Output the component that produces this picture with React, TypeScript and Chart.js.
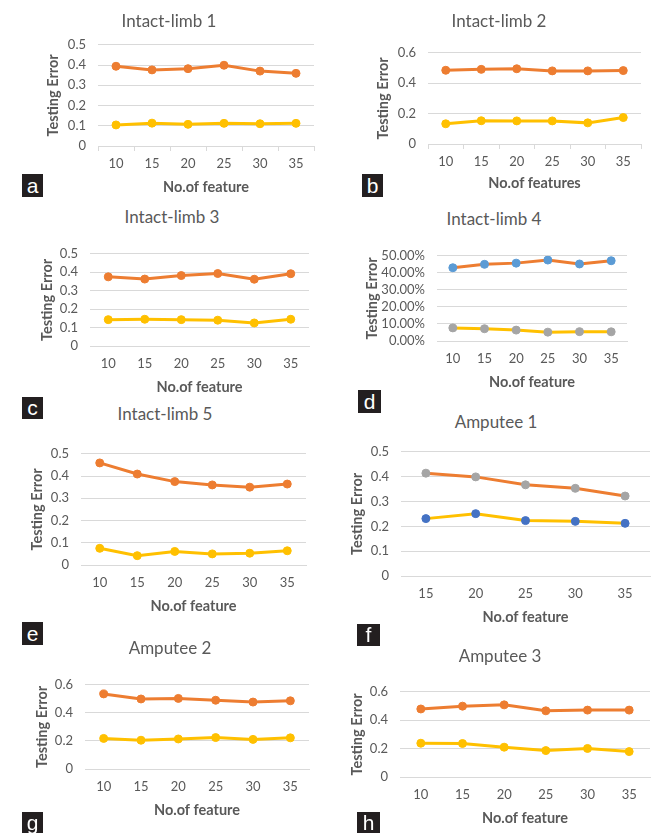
import React, { useEffect, useRef } from "react";
import { Chart, registerables } from "chart.js";

Chart.register(...registerables);

// ---------- data ----------
const features6 = ["10", "15", "20", "25", "30", "35"];
const features5 = ["15", "20", "25", "30", "35"];

const intact1Upper = [0.394, 0.376, 0.382, 0.399, 0.37, 0.359];
const intact1Lower = [0.104, 0.113, 0.107, 0.112, 0.11, 0.112];

const intact2Upper = [0.485, 0.491, 0.495, 0.481, 0.481, 0.483];
const intact2Lower = [0.133, 0.153, 0.152, 0.152, 0.139, 0.174];

const intact3Upper = [0.375, 0.363, 0.382, 0.393, 0.362, 0.392];
const intact3Lower = [0.143, 0.145, 0.143, 0.14, 0.125, 0.145];

const intact4Upper = [43.0, 45.0, 45.7, 47.5, 45.2, 47.1];
const intact4Lower = [7.7, 7.2, 6.4, 5.2, 5.5, 5.4];

const intact5Upper = [0.459, 0.409, 0.375, 0.36, 0.35, 0.364];
const intact5Lower = [0.075, 0.042, 0.061, 0.05, 0.053, 0.064];

const amputee1Upper = [0.414, 0.399, 0.367, 0.353, 0.322];
const amputee1Lower = [0.231, 0.251, 0.223, 0.22, 0.212];

const amputee2Upper = [0.535, 0.499, 0.503, 0.49, 0.477, 0.486];
const amputee2Lower = [0.218, 0.205, 0.214, 0.224, 0.211, 0.222];

const amputee3Upper = [0.479, 0.499, 0.508, 0.466, 0.471, 0.471];
const amputee3Lower = [0.238, 0.236, 0.21, 0.186, 0.201, 0.179];

// ---------- styles ----------
const ORANGE = "#ED7D31";
const YELLOW = "#FFC000";
const GRAY = "#A5A5A5";
const LIGHTBLUE = "#5B9BD5";
const DARKBLUE = "#4472C4";
const TEXT = "#595959";
const GRID = "#D9D9D9";
const FONT = "Lato, 'Open Sans', sans-serif";
const TICK_SIZE = 13;
const AXIS_TITLE_SIZE = 14.5;
const PANEL_TITLE_SIZE = 17;

type Series = { data: number[]; line: string; point: string };
type Spec = {
  title: string;
  titleX: number;
  titleY: number;
  letter: string;
  box: [number, number, number, number];
  L: number;
  R: number;
  T: number;
  B: number;
  yTitleX: number;
  xTitleY: number;
  xTitle: string;
  labels: string[];
  yMax: number;
  yStep: number;
  percent?: boolean;
  tickMarks?: boolean;
  series: Series[];
};

const specs: Spec[] = [
  {
    title: "Intact-limb 1", titleX: 169, titleY: 20, letter: "a", box: [22, 174, 21, 23],
    L: 98, R: 315, T: 37, B: 146, yTitleX: 53, xTitleY: 187, xTitle: "No.of feature",
    labels: features6, yMax: 0.5, yStep: 0.1, tickMarks: true,
    series: [
      { data: intact1Upper, line: ORANGE, point: ORANGE },
      { data: intact1Lower, line: YELLOW, point: YELLOW },
    ],
  },
  {
    title: "Intact-limb 2", titleX: 499, titleY: 20, letter: "b", box: [362, 174, 21, 23],
    L: 428, R: 642, T: 45, B: 144, yTitleX: 383, xTitleY: 183, xTitle: "No.of features",
    labels: features6, yMax: 0.6, yStep: 0.2, tickMarks: true,
    series: [
      { data: intact2Upper, line: ORANGE, point: ORANGE },
      { data: intact2Lower, line: YELLOW, point: YELLOW },
    ],
  },
  {
    title: "Intact-limb 3", titleX: 172, titleY: 216, letter: "c", box: [22, 397, 21, 22],
    L: 90, R: 310, T: 246, B: 346, yTitleX: 47, xTitleY: 387, xTitle: "No.of feature",
    labels: features6, yMax: 0.5, yStep: 0.1,
    series: [
      { data: intact3Upper, line: ORANGE, point: ORANGE },
      { data: intact3Lower, line: YELLOW, point: YELLOW },
    ],
  },
  {
    title: "Intact-limb 4", titleX: 494, titleY: 218, letter: "d", box: [358, 390, 23, 23],
    L: 437, R: 628, T: 248, B: 341, yTitleX: 372, xTitleY: 382, xTitle: "No.of feature",
    labels: features6, yMax: 50, yStep: 10, percent: true,
    series: [
      { data: intact4Upper, line: ORANGE, point: LIGHTBLUE },
      { data: intact4Lower, line: YELLOW, point: GRAY },
    ],
  },
  {
    title: "Intact-limb 5", titleX: 165, titleY: 413, letter: "e", box: [22, 622, 21, 23],
    L: 81, R: 307, T: 446, B: 565, yTitleX: 37, xTitleY: 606, xTitle: "No.of feature",
    labels: features6, yMax: 0.5, yStep: 0.1,
    series: [
      { data: intact5Upper, line: ORANGE, point: ORANGE },
      { data: intact5Lower, line: YELLOW, point: YELLOW },
    ],
  },
  {
    title: "Amputee 1", titleX: 496, titleY: 421, letter: "f", box: [357, 624, 23, 22],
    L: 401, R: 652, T: 444, B: 576, yTitleX: 357, xTitleY: 617, xTitle: "No.of feature",
    labels: features5, yMax: 0.5, yStep: 0.1,
    series: [
      { data: amputee1Upper, line: ORANGE, point: GRAY },
      { data: amputee1Lower, line: YELLOW, point: DARKBLUE },
    ],
  },
  {
    title: "Amputee 2", titleX: 170, titleY: 647, letter: "g", box: [22, 812, 21, 22],
    L: 85, R: 310, T: 677, B: 769, yTitleX: 42, xTitleY: 810, xTitle: "No.of feature",
    labels: features6, yMax: 0.6, yStep: 0.2,
    series: [
      { data: amputee2Upper, line: ORANGE, point: ORANGE },
      { data: amputee2Lower, line: YELLOW, point: YELLOW },
    ],
  },
  {
    title: "Amputee 3", titleX: 500, titleY: 655, letter: "h", box: [357, 812, 23, 22],
    L: 400, R: 655, T: 684, B: 777, yTitleX: 357, xTitleY: 818, xTitle: "No.of feature",
    labels: features6, yMax: 0.6, yStep: 0.2,
    series: [
      { data: amputee3Upper, line: ORANGE, point: ORANGE },
      { data: amputee3Lower, line: YELLOW, point: YELLOW },
    ],
  },
];

const HALF_TITLE = (AXIS_TITLE_SIZE * 1.2) / 2;
const HALF_TICK = (TICK_SIZE * 1.2) / 2;

function Panel({ spec }: { spec: Spec }) {
  const ref = useRef<HTMLCanvasElement>(null);
  const cl = Math.round(spec.yTitleX - HALF_TITLE);
  const ct = spec.T - 12;
  const cr = Math.min(spec.R + 4, 655);
  const cb = Math.ceil(spec.xTitleY + HALF_TITLE);
  const w = cr - cl;
  const h = cb - ct;

  useEffect(() => {
    if (!ref.current) return;
    const tickLen = spec.tickMarks ? 5 : 0;
    const chart = new Chart(ref.current, {
      type: "line",
      data: {
        labels: spec.labels,
        datasets: spec.series.map((s) => ({
          data: s.data,
          borderColor: s.line,
          backgroundColor: s.point,
          pointBackgroundColor: s.point,
          pointBorderColor: s.point,
          pointBorderWidth: 1,
          pointRadius: 4,
          borderWidth: 3,
          tension: 0,
          fill: false,
        })),
      },
      options: {
        animation: false,
        responsive: false,
        devicePixelRatio: 1,
        layout: { padding: { left: 0, top: 12, right: cr - spec.R, bottom: 0 } },
        plugins: { legend: { display: false }, tooltip: { enabled: false }, title: { display: false } },
        scales: {
          x: {
            type: "category",
            offset: true,
            grid: {
              display: !!spec.tickMarks,
              drawOnChartArea: false,
              drawTicks: !!spec.tickMarks,
              tickLength: 5,
              offset: true,
              color: GRID,
            },
            border: { display: true, color: GRID },
            ticks: {
              color: TEXT,
              font: { family: FONT, size: TICK_SIZE },
              padding: 18 - HALF_TICK - tickLen,
              maxRotation: 0,
              autoSkip: false,
            },
            title: {
              display: true,
              text: spec.xTitle,
              color: TEXT,
              font: { family: FONT, size: AXIS_TITLE_SIZE, weight: "bold" },
              padding: { top: 0, bottom: cb - spec.xTitleY - HALF_TITLE },
            },
            afterFit: (scale: any) => {
              scale.height = cb - spec.B;
            },
          },
          y: {
            min: 0,
            max: spec.yMax,
            grid: { color: GRID, drawTicks: false, lineWidth: 1 },
            border: { display: false },
            ticks: {
              stepSize: spec.yStep,
              autoSkip: false,
              color: TEXT,
              font: { family: FONT, size: TICK_SIZE },
              padding: 12,
              callback: spec.percent
                ? (v: any) => Number(v).toFixed(2) + "%"
                : (v: any) => String(Math.round(Number(v) * 100) / 100),
            },
            title: {
              display: true,
              text: "Testing Error",
              color: TEXT,
              font: { family: FONT, size: AXIS_TITLE_SIZE, weight: "bold" },
              padding: { top: spec.yTitleX - HALF_TITLE - cl, bottom: 0 },
            },
            afterFit: (scale: any) => {
              scale.width = spec.L - cl;
            },
          },
        },
      },
    } as any);
    return () => chart.destroy();
  }, []);

  return (
    <>
      <canvas
        ref={ref}
        width={w}
        height={h}
        style={{ position: "absolute", left: cl, top: ct, width: w, height: h }}
      />
      <div
        style={{
          position: "absolute",
          left: spec.titleX,
          top: spec.titleY,
          transform: "translate(-50%, -50%)",
          whiteSpace: "nowrap",
          fontFamily: FONT,
          fontSize: PANEL_TITLE_SIZE,
          lineHeight: 1,
          color: TEXT,
        }}
      >
        {spec.title}
      </div>
      <div
        style={{
          position: "absolute",
          left: spec.box[0],
          top: spec.box[1],
          width: spec.box[2],
          height: spec.box[3],
          background: "#231F20",
          color: "#FFFFFF",
          fontFamily: "'Liberation Sans', Arial, sans-serif",
          fontSize: 21,
          lineHeight: spec.box[3] + "px",
          textAlign: "center",
        }}
      >
        {spec.letter}
      </div>
    </>
  );
}

export default function App() {
  return (
    <div
      style={{
        position: "absolute",
        left: 0,
        top: 0,
        width: 655,
        height: 833,
        overflow: "hidden",
        background: "#FFFFFF",
      }}
    >
      {specs.map((s) => (
        <Panel key={s.letter} spec={s} />
      ))}
    </div>
  );
}
